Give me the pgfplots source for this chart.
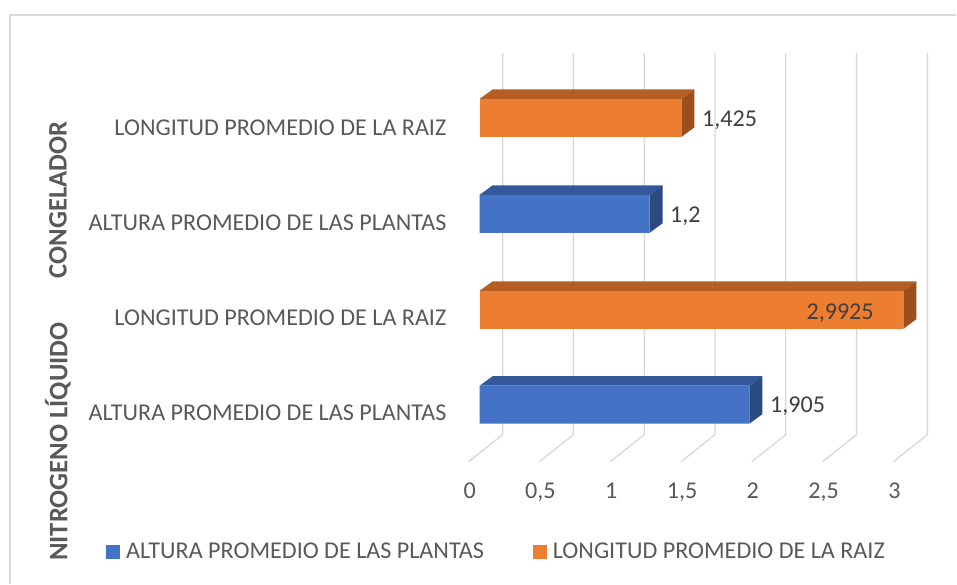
\documentclass[border=0pt]{standalone}
\usepackage{pgfplots}
\pgfplotsset{compat=1.18}
\usepackage{fontspec}
\setmainfont{Carlito}

\definecolor{barblue}{HTML}{4472C4}
\definecolor{blueTop}{HTML}{34599B}
\definecolor{blueSide}{HTML}{2B4A80}
\definecolor{barorange}{HTML}{ED7D31}
\definecolor{orangeTop}{HTML}{B55F25}
\definecolor{orangeSide}{HTML}{9B4F1D}
\definecolor{labgray}{HTML}{595959}
\definecolor{valgray}{HTML}{404040}
\definecolor{gridc}{HTML}{D9D9D9}

\newcommand\lbl{\fontsize{18.1}{21}\selectfont}
\newcommand\grp{\fontsize{20}{24}\selectfont\bfseries}

% 1 px of the reference = 0.75pt; x data: px = 480 + 141.7*x ; y data = px (downwards)
\pgfplotsset{
  frontbar/.style={xbar, bar width=38, bar shift=0pt, draw=none,
    legend image code/.code={\fill[##1] (0pt,-5.25pt) rectangle (10.5pt,5.25pt);}},
  face/.style={draw=none, forget plot},
}

\begin{document}
\begin{tikzpicture}
\begin{axis}[
  width=717.75pt, height=438pt, scale only axis,
  xmin=-3.3874, xmax=3.3663, ymin=0, ymax=584, y dir=reverse,
  hide axis, clip=false,
  point meta=x,
  /pgf/number format/.cd, use comma, precision=4, assume math mode=true,
  /pgfplots/.cd,
  legend style={at={(axis cs:-2.6394,552)}, anchor=west, draw=none, fill=none,
    inner sep=0pt, font=\lbl, text=labgray, nodes={inner sep=0pt},
    /tikz/every odd column/.append style={column sep=4.5pt},
    /tikz/every even column/.append style={column sep=36.75pt}},
  legend columns=2,
]
\path (rel axis cs:0,0) rectangle (rel axis cs:1,1);
% chart frame (top and left edges visible)
\draw[gridc, line width=1.1pt] (axis cs:-3.3168,584) -- (axis cs:-3.3168,15) -- (axis cs:3.3663,15);

% 3D gridlines: back wall and floor
\pgfplotsinvokeforeach{0,0.5,1,1.5,2,2.5,3}{
  \draw[gridc, line width=1pt] (axis cs:{#1+0.1623},53) -- (axis cs:{#1+0.1623},435) -- (axis cs:{#1-0.0776},462);
}

% top and side faces of the bars (value v, centre c): depth 0.0917 in x, 9.5 in y
\addplot[face, fill=blueTop] coordinates {(0,386) (1.905,386) (1.9967,376.5) (0.0917,376.5)} -- cycle;
\addplot[face, fill=blueSide] coordinates {(1.905,386) (1.9967,376.5) (1.9967,414.5) (1.905,424)} -- cycle;
\addplot[face, fill=orangeTop] coordinates {(0,291) (2.9925,291) (3.0842,281.5) (0.0917,281.5)} -- cycle;
\addplot[face, fill=orangeSide] coordinates {(2.9925,291) (3.0842,281.5) (3.0842,319.5) (2.9925,329)} -- cycle;
\addplot[face, fill=blueTop] coordinates {(0,195) (1.2,195) (1.2917,185.5) (0.0917,185.5)} -- cycle;
\addplot[face, fill=blueSide] coordinates {(1.2,195) (1.2917,185.5) (1.2917,223.5) (1.2,233)} -- cycle;
\addplot[face, fill=orangeTop] coordinates {(0,99) (1.425,99) (1.5167,89.5) (0.0917,89.5)} -- cycle;
\addplot[face, fill=orangeSide] coordinates {(1.425,99) (1.5167,89.5) (1.5167,127.5) (1.425,137)} -- cycle;

% front faces with value labels
\addplot[frontbar, fill=barblue, nodes near coords,
  every node near coord/.append style={anchor=west, xshift=12pt, yshift=-1.5pt, font=\lbl, text=valgray}]
  coordinates {(1.905,405) (1.2,214)};
\addlegendentry{ALTURA PROMEDIO DE LAS PLANTAS}
\addplot[frontbar, fill=barorange, nodes near coords,
  every node near coord/.append style={anchor=west, xshift=12pt, yshift=-1.5pt, font=\lbl, text=valgray}]
  coordinates {(1.425,118)};
\addlegendentry{LONGITUD PROMEDIO DE LA RAIZ}
\addplot[frontbar, fill=barorange, forget plot, nodes near coords,
  every node near coord/.append style={anchor=east, xshift=-18.75pt, yshift=-2.25pt, font=\lbl, text=valgray}]
  coordinates {(2.9925,310)};

% category labels
\node[anchor=east, font=\lbl, text=labgray, inner sep=0pt] at (axis cs:-0.2329,128) {LONGITUD PROMEDIO DE LA RAIZ};
\node[anchor=east, font=\lbl, text=labgray, inner sep=0pt] at (axis cs:-0.2329,223) {ALTURA PROMEDIO DE LAS PLANTAS};
\node[anchor=east, font=\lbl, text=labgray, inner sep=0pt] at (axis cs:-0.2329,318) {LONGITUD PROMEDIO DE LA RAIZ};
\node[anchor=east, font=\lbl, text=labgray, inner sep=0pt] at (axis cs:-0.2329,413) {ALTURA PROMEDIO DE LAS PLANTAS};
% group labels
\node[rotate=90, font=\grp, text=labgray, inner sep=0pt] at (axis cs:-2.978,200) {CONGELADOR};
\node[rotate=90, font=\grp, text=labgray, inner sep=0pt] at (axis cs:-2.978,442) {NITROGENO LÍQUIDO};

% value axis numbers
\pgfplotsinvokeforeach{0,0.5,1,1.5,2,2.5,3}{
  \node[anchor=base, font=\lbl, text=labgray, inner sep=0pt] at (axis cs:{#1-0.0706},499) {\pgfmathprintnumber{#1}};
}
\end{axis}
\end{tikzpicture}
\end{document}
